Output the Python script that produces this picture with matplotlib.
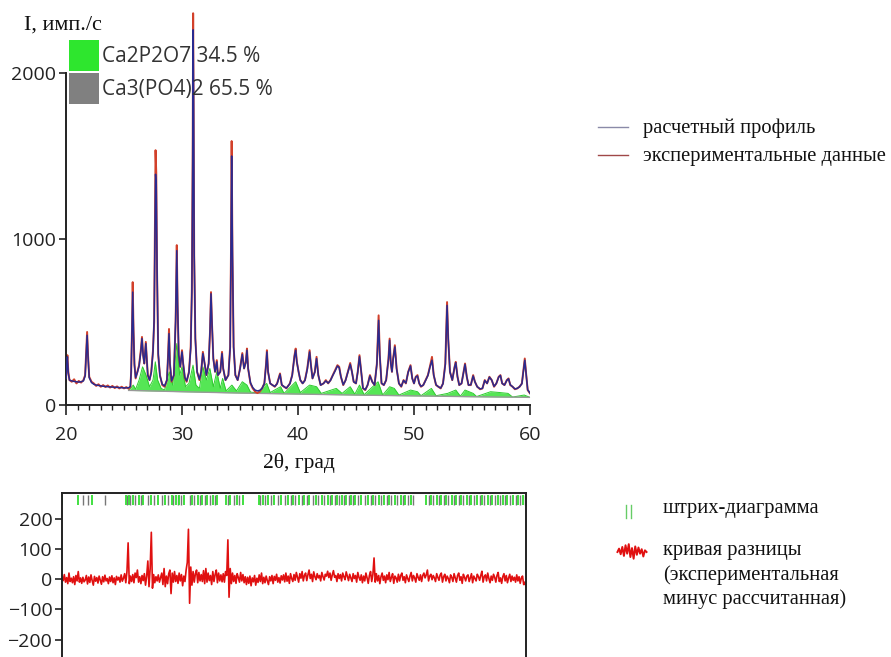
import numpy as np
import matplotlib
matplotlib.use("Agg")
import matplotlib.pyplot as plt
from matplotlib.patches import Rectangle
from matplotlib.lines import Line2D

# ---------------- data ----------------
two_theta = [
    20.0, 20.05, 20.12, 20.2, 20.3, 20.5, 20.7, 20.9, 21.1, 21.3,
    21.5, 21.65, 21.75, 21.82, 21.9, 22.0, 22.2, 22.4, 22.6, 22.8,
    23.0, 23.2, 23.4, 23.6, 23.8, 24.0, 24.2, 24.4, 24.6, 24.8,
    25.0, 25.2, 25.4, 25.55, 25.62, 25.7, 25.75, 25.82, 25.9, 26.0,
    26.15, 26.3, 26.45, 26.55, 26.65, 26.75, 26.88, 26.95, 27.05, 27.2,
    27.35, 27.5, 27.6, 27.68, 27.72, 27.78, 27.85, 27.95, 28.1, 28.3,
    28.5, 28.7, 28.8, 28.88, 28.96, 29.1, 29.3, 29.45, 29.55, 29.62,
    29.72, 29.85, 30.0, 30.1, 30.25, 30.4, 30.6, 30.75, 30.85, 30.92,
    30.96, 31.0, 31.05, 31.15, 31.3, 31.5, 31.65, 31.8, 31.95, 32.1,
    32.3, 32.42, 32.5, 32.58, 32.7, 32.85, 33.0, 33.1, 33.3, 33.45,
    33.55, 33.75, 34.0, 34.15, 34.22, 34.28, 34.35, 34.45, 34.6, 34.8,
    35.0, 35.2, 35.35, 35.5, 35.6, 35.7, 35.9, 36.1, 36.3, 36.5,
    36.7, 36.9, 37.1, 37.25, 37.32, 37.42, 37.6, 37.8, 38.0, 38.2,
    38.45, 38.6, 38.8, 39.0, 39.3, 39.5, 39.7, 39.8, 39.9, 40.05,
    40.2, 40.4, 40.6, 40.8, 41.0, 41.1, 41.25, 41.45, 41.6, 41.75,
    41.95, 42.2, 42.4, 42.6, 42.8, 43.0, 43.2, 43.4, 43.55, 43.7,
    43.9, 44.1, 44.3, 44.5, 44.65, 44.8, 45.0, 45.15, 45.3, 45.45,
    45.6, 45.8, 46.0, 46.2, 46.4, 46.6, 46.8, 46.95, 47.05, 47.2,
    47.4, 47.6, 47.8, 47.9, 48.0, 48.1, 48.2, 48.35, 48.5, 48.7,
    48.9, 49.1, 49.3, 49.5, 49.7, 49.85, 50.0, 50.15, 50.3, 50.45,
    50.6, 50.8, 51.0, 51.2, 51.4, 51.55, 51.7, 51.9, 52.1, 52.3,
    52.5, 52.7, 52.85, 52.95, 53.1, 53.3, 53.5, 53.6, 53.75, 53.9,
    54.1, 54.3, 54.4, 54.55, 54.7, 54.9, 55.1, 55.25, 55.45, 55.7,
    55.9, 56.1, 56.3, 56.5, 56.7, 56.9, 57.1, 57.3, 57.45, 57.6,
    57.8, 58.0, 58.15, 58.3, 58.5, 58.7, 58.9, 59.1, 59.3, 59.45,
    59.55, 59.65, 59.8, 60.0,
]
obs_intensity = [
    150, 230, 300, 200, 150, 140, 155, 130, 145, 135,
    150, 180, 330, 440, 300, 170, 140, 130, 115, 125,
    110, 120, 108, 118, 105, 115, 102, 112, 100, 110,
    100, 108, 98, 110, 200, 500, 740, 450, 250, 160,
    200, 240, 330, 410, 300, 250, 380, 300, 180, 150,
    200, 330, 500, 1200, 1535, 1400, 800, 300, 180, 120,
    110, 150, 300, 458, 250, 140, 180, 500, 963, 600,
    300, 230, 330, 250, 160, 140, 200, 350, 700, 1500,
    2360, 1800, 900, 400, 200, 150, 200, 320, 250, 180,
    250, 450, 680, 500, 280, 200, 270, 180, 200, 320,
    220, 150, 180, 350, 900, 1590, 900, 350, 180, 150,
    220, 313, 220, 260, 340, 220, 130, 100, 80, 72,
    80, 100, 130, 250, 330, 200, 130, 120, 110, 130,
    190, 120, 110, 100, 130, 180, 300, 340, 260, 200,
    150, 130, 150, 220, 330, 250, 160, 200, 290, 180,
    120, 130, 150, 130, 150, 180, 210, 240, 230, 170,
    120, 150, 200, 253, 200, 140, 130, 200, 300, 200,
    100, 90, 120, 180, 140, 120, 250, 540, 300, 130,
    120, 150, 280, 400, 250, 200, 280, 360, 220, 130,
    110, 150, 130, 200, 240, 160, 130, 170, 180, 130,
    110, 120, 150, 180, 240, 290, 180, 120, 110, 100,
    130, 250, 620, 400, 200, 150, 230, 260, 170, 120,
    130, 210, 250, 170, 120, 120, 180, 140, 110, 95,
    100, 150, 130, 170, 150, 110, 130, 170, 180, 130,
    120, 150, 160, 120, 110, 95, 100, 110, 130, 220,
    280, 200, 90, 70,
]
calc_intensity = [
    160, 220, 290, 190, 150, 145, 142, 140, 138, 140,
    145, 175, 320, 420, 290, 165, 135, 125, 120, 118,
    115, 113, 112, 110, 109, 108, 107, 106, 105, 104,
    103, 103, 104, 112, 210, 480, 680, 440, 240, 165,
    195, 235, 320, 400, 300, 250, 370, 295, 180, 150,
    195, 320, 520, 1150, 1390, 1330, 820, 310, 175, 125,
    115, 150, 290, 430, 250, 145, 180, 510, 930, 610,
    300, 230, 320, 250, 165, 145, 195, 340, 680, 1450,
    2260, 1850, 920, 400, 200, 155, 200, 310, 250, 180,
    250, 460, 670, 500, 280, 200, 260, 180, 200, 310,
    220, 150, 180, 340, 920, 1500, 920, 350, 180, 150,
    215, 305, 220, 255, 330, 220, 135, 105, 90, 85,
    88, 100, 130, 245, 320, 200, 130, 120, 112, 128,
    185, 122, 110, 102, 128, 178, 295, 330, 260, 200,
    150, 130, 148, 215, 320, 250, 160, 198, 280, 180,
    120, 130, 145, 132, 148, 178, 205, 235, 225, 170,
    122, 148, 198, 245, 200, 140, 130, 198, 292, 200,
    102, 92, 120, 175, 140, 120, 245, 510, 300, 132,
    120, 150, 275, 390, 250, 200, 275, 350, 220, 130,
    112, 148, 132, 198, 235, 160, 130, 168, 175, 130,
    112, 120, 148, 178, 235, 270, 180, 122, 110, 102,
    128, 245, 600, 400, 200, 150, 228, 255, 170, 120,
    130, 205, 245, 170, 120, 122, 175, 140, 110, 97,
    100, 148, 130, 168, 150, 112, 130, 168, 178, 130,
    120, 148, 158, 122, 110, 97, 100, 110, 128, 215,
    270, 200, 92, 72,
]

background_tt = [25.4, 30.0, 35.0, 40.0, 45.0, 50.0, 55.0, 60.0]
background_i = [88, 80, 72, 66, 60, 55, 50, 46]

phase1_tt = [25.4, 25.5, 25.8, 26.0, 26.3, 26.6, 26.9, 27.2, 27.5, 27.7,
             27.9, 28.2, 28.5, 28.9, 29.2, 29.55, 29.8, 30.0, 30.3, 30.6,
             30.95, 31.2, 31.5, 31.8, 32.1, 32.4, 32.7, 33.0, 33.3, 33.5,
             33.8, 34.3, 34.7, 35.2, 35.6, 35.9, 36.5, 37.3, 37.6, 38.5,
             38.8, 39.8, 40.2, 41.0, 41.6, 42.0, 43.3, 43.8, 44.5, 44.9,
             45.3, 45.7, 46.9, 47.3, 47.9, 48.3, 48.7, 49.7, 50.3, 50.6,
             51.5, 51.9, 52.9, 53.6, 54.0, 54.4, 55.1, 55.4, 56.6, 57.4,
             58.1, 58.5, 59.5, 60.0]
phase1_i = [88, 95, 120, 95, 150, 230, 180, 110, 150, 260,
            150, 100, 90, 200, 120, 370, 180, 230, 110, 130,
            240, 120, 100, 230, 150, 220, 110, 200, 100, 160,
            85, 120, 85, 140, 120, 78, 72, 130, 75, 110,
            70, 140, 75, 120, 110, 70, 100, 70, 110, 65,
            120, 62, 140, 60, 110, 100, 60, 90, 80, 56,
            100, 56, 70, 90, 53, 90, 70, 51, 80, 75,
            70, 48, 60, 46]

diff_values = [
    10, -5, 15, -10, 5, -15, 20, -8, 3, -12,
    8, -18, 12, -6, 25, -10, 4, -14, 6, -9,
    -3, 12, -16, 7, -11, 14, -5, -20, 9, -7,
    5, -13, 10, -4, -17, 8, -9, 13, -6, 2,
    -15, 7, -8, 11, -12, 4, -18, 9, -3, 6,
    -10, 14, -7, 3, 18, -12, 25, 120, -15, 10,
    -8, 15, -12, 20, 5, 30, -10, 8, -15, 12,
    -5, 18, -20, 10, 60, -25, 35, 155, -30, 15,
    -12, 8, -6, 14, -10, 5, 20, -18, 35, -25,
    10, -15, 18, 30, -48, 20, -10, 25, -8, 12,
    -14, 20, -6, 15, -22, 10, -8, 30, 55, 165,
    -80, 40, -20, 25, -10, 18, 30, -12, 22, -6,
    15, -8, 28, -15, 35, -10, 20, -5, 12, -18,
    25, -8, 15, 30, -12, 20, -6, 14, -9, 18,
    -10, 25, 12, 130, -60, 35, -15, 20, -8, 12,
    -14, 18, 5, -10, 22, -6, 15, -12, 8, -18,
    6, -14, 10, -22, 4, -9, 12, -20, 3, -11,
    14, -8, 20, -15, 6, -12, 10, -5, -18, 8,
    -6, 12, -15, 9, -4, 16, -10, 5, -13, 11,
    -3, 14, -9, 20, -7, 10, -14, 18, 2, -8,
    15, -4, 22, 6, -10, 18, 3, 25, -6, 12,
    20, -5, 14, 30, 2, 16, -8, 24, 8, -2,
    18, 4, 12, -6, 22, 8, -3, 16, 10, 26,
    5, 20, -4, 14, 28, 6, 12, -8, 18, 2,
    15, -6, 20, 8, -2, 24, 10, -5, 16, 4,
    -8, 18, 2, 12, -10, 22, 6, -4, 14, -12,
    10, -6, 20, 4, -14, 12, 25, -8, 15, 70,
    -10, 18, -6, 12, -15, 8, 20, -4, 10, -12,
    14, -2, 22, -8, 6, 18, -14, 10, 4, -10,
    16, -6, 12, 20, -4, 8, -12, 14, 2, -8,
    10, 22, -6, 12, 4, -10, 18, 6, -4, 14,
    -8, 12, 20, 4, 14, 30, -6, 10, 16, -2,
    12, 4, -8, 18, 6, -4, 14, 20, -10, 8,
    16, -6, 10, 2, -12, 14, 6, -8, 18, 4,
    -10, 12, 20, -4, 8, -14, 16, 6, -6, 10,
    14, -8, 4, 18, -12, 10, 2, -6, 16, 8,
    -4, 12, 26, -10, 8, 14, -6, 20, 2, -12,
    10, -4, 16, 6, -10, 12, 22, -8, 4, -14,
    8, 18, -6, 12, -12, 4, 16, -8, 10, -4,
    6, -10, 14, -6, 8, -14, 4, 10, -18, -10,
    -25,
]

refl_phase1 = [20.0, 21.4, 22.6, 25.5, 25.8, 26.1, 26.6, 27.0, 27.7, 28.3, 28.9,
               29.5, 29.8, 30.1, 30.5, 31.2, 31.7, 32.1, 32.5, 33.0, 33.4, 34.1,
               34.5, 35.1, 35.6, 37.0, 37.3, 37.8, 38.3, 38.9, 39.5, 39.9, 40.4,
               40.9, 41.3, 41.9, 42.4, 42.9, 43.3, 43.7, 44.1, 44.5, 44.9, 45.3,
               45.8, 46.4, 46.8, 47.3, 47.8, 48.2, 48.7, 49.2, 49.6, 50.1, 51.4,
               51.8, 52.3, 52.7, 53.1, 53.6, 54.0, 54.4, 54.9, 55.3, 55.8, 56.2,
               56.7, 57.1, 57.6, 58.0, 58.4, 58.9, 59.3, 59.7]
refl_phase2 = [21.8, 22.2, 23.7, 25.6, 25.9, 26.3, 26.8, 27.4, 27.9, 28.6, 29.1,
               29.6, 30.0, 30.3, 31.0, 31.4, 31.9, 32.3, 32.8, 33.2, 34.3, 34.8,
               35.3, 37.1, 37.5, 38.0, 38.6, 39.2, 39.7, 40.1, 40.7, 41.1, 41.6,
               42.1, 42.6, 43.1, 43.5, 43.9, 44.3, 44.7, 45.1, 45.5, 46.1, 46.6,
               47.0, 47.5, 48.0, 48.4, 48.9, 49.4, 49.8, 50.3, 51.6, 52.0, 52.5,
               52.9, 53.3, 53.8, 54.2, 54.6, 55.1, 55.5, 56.0, 56.4, 56.9, 57.3,
               57.8, 58.2, 58.6, 59.1, 59.5, 59.9]

icon_noise = [0, 6, -4, 9, -7, 12, -3, 14, -9, 7, -12, 10, -5, 8, -3, 5, -8, 3, 0]

phase_labels = ["Ca2P2O7 34.5 %", "Ca3(PO4)2 65.5 %"]
phase_colors = ["#2ee62e", "#808080"]
x_ticks = [20, 30, 40, 50, 60]
y_ticks_top = [0, 1000, 2000]
y_ticks_bottom = [-200, -100, 0, 100, 200]

# ---------------- figure ----------------
W, H = 891, 657
fig = plt.figure(figsize=(W / 100, H / 100), dpi=100)
sans = "Open Sans"
serif = "Liberation Serif"
SERIF_SIZE = 14.8

def fx(px):
    return px / W

def fy(py):
    return 1 - py / H

# top panel
ax = fig.add_axes([fx(66), fy(405), 464 / W, (405 - 6.6) / H])
bg_on_phase = np.interp(phase1_tt, background_tt, background_i)
ax.fill_between(phase1_tt, bg_on_phase, phase1_i, color="#55e655", lw=0, zorder=1)
ax.plot(phase1_tt, phase1_i, color="#2ecc2e", lw=0.7, zorder=1.5)
ax.plot(background_tt, background_i, color="#999999", lw=1.0, zorder=1.6)
ax.plot(two_theta, obs_intensity, color="#d2402a", lw=1.4, zorder=2)
ax.plot(two_theta, calc_intensity, color="#2a2a8f", lw=1.1, zorder=3)
ax.set_xlim(20, 60)
ax.set_ylim(0, 2400)
for s in ["top", "right"]:
    ax.spines[s].set_visible(False)
ax.spines["left"].set_bounds(0, 2000)
for s in ["left", "bottom"]:
    ax.spines[s].set_linewidth(1.4)
    ax.spines[s].set_color("#222222")
ax.set_xticks(x_ticks)
ax.set_xticks(np.arange(21, 60, 1), minor=True)
ax.set_yticks(y_ticks_top)
ax.tick_params(axis="x", which="major", length=7, width=1.2, pad=8,
               labelsize=14, colors="#222222")
ax.tick_params(axis="x", which="minor", length=3.5, width=1.0, colors="#222222")
ax.tick_params(axis="y", which="major", length=5, width=1.2, pad=2,
               labelsize=14, colors="#222222")
for lab in ax.get_xticklabels() + ax.get_yticklabels():
    lab.set_fontfamily(sans)

# phase legend squares
for i, (lab, col) in enumerate(zip(phase_labels, phase_colors)):
    top = 40 + i * 33
    fig.add_artist(Rectangle((fx(69), fy(top + 31)), 30 / W, 31 / H,
                             transform=fig.transFigure, color=col, lw=0))
    fig.text(fx(102), fy(top + 16), lab, fontsize=15, family=sans,
             color="#333333", ha="left", va="center")

fig.text(fx(24), fy(25), "I, имп./с", fontsize=16, family=serif,
         ha="left", va="center", color="#111111")
fig.text(fx(299), fy(463), "2θ, град", fontsize=15.5, family=serif,
         ha="center", va="center", color="#111111")

# right legend (top)
fig.add_artist(Line2D([fx(598), fx(628)], [fy(127), fy(127)], color="#8a8aa8",
                      lw=1.0, transform=fig.transFigure))
fig.add_artist(Line2D([fx(598), fx(628)], [fy(155), fy(155)], color="#a04848",
                      lw=1.0, transform=fig.transFigure))
fig.text(fx(643), fy(128), "расчетный профиль", fontsize=SERIF_SIZE, family=serif,
         ha="left", va="center", color="#111111")
fig.text(fx(643), fy(156), "экспериментальные данные", fontsize=SERIF_SIZE,
         family=serif, ha="left", va="center", color="#111111")

# bottom panel
ax2 = fig.add_axes([fx(62), fy(669.75), 464 / W, (669.75 - 493) / H])
diff_tt = np.linspace(20, 60, len(diff_values))
ax2.plot(diff_tt, diff_values, color="#e01010", lw=1.2)
ax2.vlines(refl_phase2, 245, 278, color="#777777", lw=1.0)
ax2.vlines(refl_phase1, 245, 278, color="#33dd33", lw=1.3)
ax2.set_xlim(20, 60)
ax2.set_ylim(-300, 285)
ax2.set_xticks([])
ax2.set_yticks(y_ticks_bottom)
ax2.tick_params(axis="y", length=5, width=1.2, pad=2, labelsize=14, colors="#222222")
for lab in ax2.get_yticklabels():
    lab.set_fontfamily(sans)
for s in ax2.spines.values():
    s.set_linewidth(1.4)
    s.set_color("#222222")

# bottom legend
for xx in (626, 631):
    fig.add_artist(Line2D([fx(xx), fx(xx)], [fy(518), fy(505)], color="#66cc66",
                          lw=1.0, transform=fig.transFigure))
fig.text(fx(663), fy(509), "штрих-диаграмма", fontsize=SERIF_SIZE, family=serif,
         ha="left", va="center", color="#111111")
icon_ax = fig.add_axes([fx(616), fy(561), 32 / W, 18 / H])
icon_ax.plot(range(len(icon_noise)), icon_noise, color="#e01010", lw=1.4)
icon_ax.set_ylim(-16, 16)
icon_ax.axis("off")
for k, line in enumerate(["кривая разницы", "(экспериментальная",
                          "минус рассчитанная)"]):
    fig.text(fx(663), fy(551 + 24 * k), line, fontsize=SERIF_SIZE, family=serif,
             ha="left", va="center", color="#111111")

fig.savefig("out.png", dpi=100)
